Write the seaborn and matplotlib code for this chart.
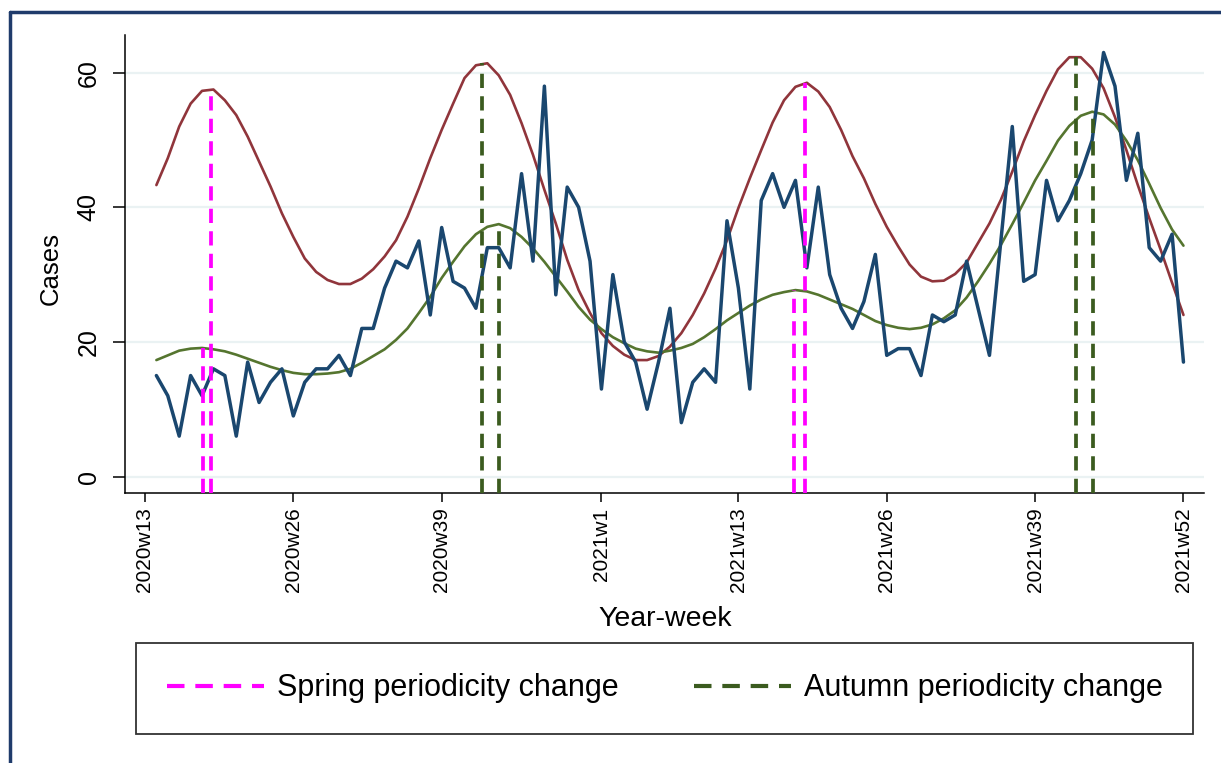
import matplotlib

matplotlib.use("Agg")
import matplotlib.pyplot as plt
import numpy as np
import pandas as pd
import seaborn as sns
from matplotlib.lines import Line2D

# week index: 0 = 2020w13 ... 91 = 2021w52 (series starts at 2020w14)
week = list(range(1, 92))

cases = [15, 12, 6, 15, 12, 16, 15, 6, 17, 11, 14, 16, 9, 14, 16, 16, 18, 15, 22, 22,
         28, 32, 31, 35, 24, 37, 29, 28, 25, 34, 34, 31, 45, 32, 58, 27, 43, 40, 32, 13,
         30, 20, 17, 10, 17, 25, 8, 14, 16, 14, 38, 28, 13, 41, 45, 40, 44, 31, 43, 30,
         25, 22, 26, 33, 18, 19, 19, 15, 24, 23, 24, 32, 25, 18, 35, 52, 29, 30, 44, 38,
         41, 45, 50, 63, 58, 44, 51, 34, 32, 36, 17]

fit_upper = [43.3, 47.3, 52.0, 55.4, 57.3, 57.5, 55.9, 53.7, 50.5, 46.8, 43.1, 39.1, 35.6, 32.4, 30.4, 29.2, 28.6, 28.6, 29.4, 30.8,
             32.7, 35.1, 38.6, 42.8, 47.3, 51.5, 55.4, 59.2, 61.1, 61.4, 59.6, 56.7, 52.5, 47.8, 42.6, 37.6, 32.2, 27.7, 24.3, 21.3,
             19.4, 18.1, 17.3, 17.3, 17.9, 19.3, 21.3, 24.0, 27.2, 30.9, 35.1, 39.9, 44.3, 48.5, 52.6, 55.9, 57.9, 58.5, 57.2, 54.9,
             51.5, 47.6, 44.3, 40.5, 37.1, 34.2, 31.5, 29.7, 29.0, 29.1, 30.1, 31.8, 34.7, 37.6, 41.1, 45.3, 49.8, 53.7, 57.3, 60.5,
             62.3, 62.3, 60.6, 57.7, 53.4, 48.5, 43.3, 38.4, 33.7, 28.8, 24.0]

fit_lower = [17.3, 18.0, 18.7, 19.0, 19.1, 18.9, 18.6, 18.1, 17.5, 16.9, 16.3, 15.8, 15.4, 15.2, 15.2, 15.3, 15.5, 16.0, 16.9, 17.9,
             18.9, 20.3, 22.0, 24.3, 26.7, 29.5, 31.9, 34.2, 36.0, 37.1, 37.5, 36.9, 35.6, 33.9, 31.9, 29.7, 27.5, 25.2, 23.3, 21.9,
             20.7, 19.8, 19.0, 18.6, 18.4, 18.7, 19.1, 19.7, 20.7, 21.9, 23.2, 24.3, 25.4, 26.3, 27.0, 27.4, 27.7, 27.5, 27.0, 26.3,
             25.6, 24.9, 24.0, 23.1, 22.5, 22.1, 21.9, 22.1, 22.6, 23.5, 24.7, 26.6, 29.0, 31.6, 34.4, 37.5, 40.7, 44.0, 46.9, 49.9,
             52.1, 53.6, 54.2, 53.8, 52.3, 49.9, 47.0, 43.5, 39.9, 36.7, 34.3]

spring_x = [5.06, 5.76, 56.9, 57.8]
spring_top = [19.1, 57.4, 27.7, 58.5]
autumn_x = [29.5, 31.05, 81.6, 83.06]
autumn_top = [61.4, 37.5, 62.4, 54.2]

tick_pos = [0, 13, 26, 40, 52, 65, 78, 91]
tick_labels = ["2020w13", "2020w26", "2020w39", "2021w1",
               "2021w13", "2021w26", "2021w39", "2021w52"]

NAVY = "#1a476f"
MAROON = "#90353b"
OLIVE = "#55752f"
MAGENTA = "#ff00ff"
DKGREEN = "#3b5b1f"
FRAME = "#1f3b6b"

sns.set_style("white")
plt.rcParams["font.family"] = ["Liberation Sans", "DejaVu Sans"]
plt.rcParams.update({"text.color": "black", "axes.labelcolor": "black",
                     "xtick.color": "black", "ytick.color": "black"})

df = pd.DataFrame({"week": week, "cases": cases,
                   "upper": fit_upper, "lower": fit_lower})

fig = plt.figure(figsize=(12.21, 7.63), dpi=100)
ax = fig.add_axes([125 / 1221, 1 - 493 / 763, 1079 / 1221, 458 / 763])

ymin, ymax = -2.45, 65.6
ax.set_xlim(-1.75, 92.8)
ax.set_ylim(ymin, ymax)

for yv in [0, 20, 40, 60]:
    ax.axhline(yv, color="#eaf2f3", lw=1.6, zorder=0)

sns.lineplot(data=df, x="week", y="cases", color=NAVY, lw=2.5, ax=ax, zorder=3)
sns.lineplot(data=df, x="week", y="upper", color=MAROON, lw=1.9, ax=ax, zorder=2)
sns.lineplot(data=df, x="week", y="lower", color=OLIVE, lw=1.9, ax=ax, zorder=2)

dash = (0, (3.8, 2.2))
ax.vlines(spring_x, ymin, spring_top, colors=MAGENTA, lw=2.7, linestyles=dash, zorder=4)
ax.vlines(autumn_x, ymin, autumn_top, colors=DKGREEN, lw=2.7, linestyles=dash, zorder=4)

ax.set_xticks(tick_pos)
ax.set_xticklabels(tick_labels, rotation=90, fontsize=15)
ax.set_yticks([0, 20, 40, 60])
ax.set_yticklabels(["0", "20", "40", "60"], rotation=90, va="center", fontsize=18)
ax.tick_params(axis="x", length=6.5, width=1.1, pad=4, color="black", direction="out", bottom=True)
ax.tick_params(axis="y", length=8.6, width=1.1, pad=9, color="black", direction="out", left=True)

for side in ["top", "right"]:
    ax.spines[side].set_visible(False)
for side in ["left", "bottom"]:
    ax.spines[side].set_color("black")
    ax.spines[side].set_linewidth(1.1)

ax.set_xlabel("Year-week", fontsize=20.5)
ax.set_ylabel("Cases", fontsize=18.5)
ax.xaxis.set_label_coords(0.501, -0.247)
ax.yaxis.set_label_coords(-0.058, 0.49)

handles = [Line2D([], [], color=MAGENTA, lw=3, linestyle=(0, (4.2, 2.6))),
           Line2D([], [], color=DKGREEN, lw=3, linestyle=(0, (4.2, 2.6)))]
leg = fig.legend(handles, ["Spring periodicity change", "Autumn periodicity change"],
                 loc="lower left", ncol=2, mode="expand", borderaxespad=0,
                 bbox_to_anchor=(136 / 1221, 1 - 734 / 763, 1057 / 1221, 86 / 763),
                 fontsize=22, handlelength=3.2, handletextpad=0.4,
                 columnspacing=2.5, borderpad=1.0, fancybox=False, frameon=True)
leg.get_frame().set_edgecolor("black")
leg.get_frame().set_linewidth(1.3)

# outer frame seen on the top and left edges of the image
fig.add_artist(Line2D([10 / 1221, 10 / 1221], [0, 1 - 12 / 763],
                      transform=fig.transFigure, color=FRAME, lw=2.5))
fig.add_artist(Line2D([10 / 1221, 1], [1 - 12 / 763, 1 - 12 / 763],
                      transform=fig.transFigure, color=FRAME, lw=2.5))

fig.savefig("out.png", dpi=100, facecolor="white")
